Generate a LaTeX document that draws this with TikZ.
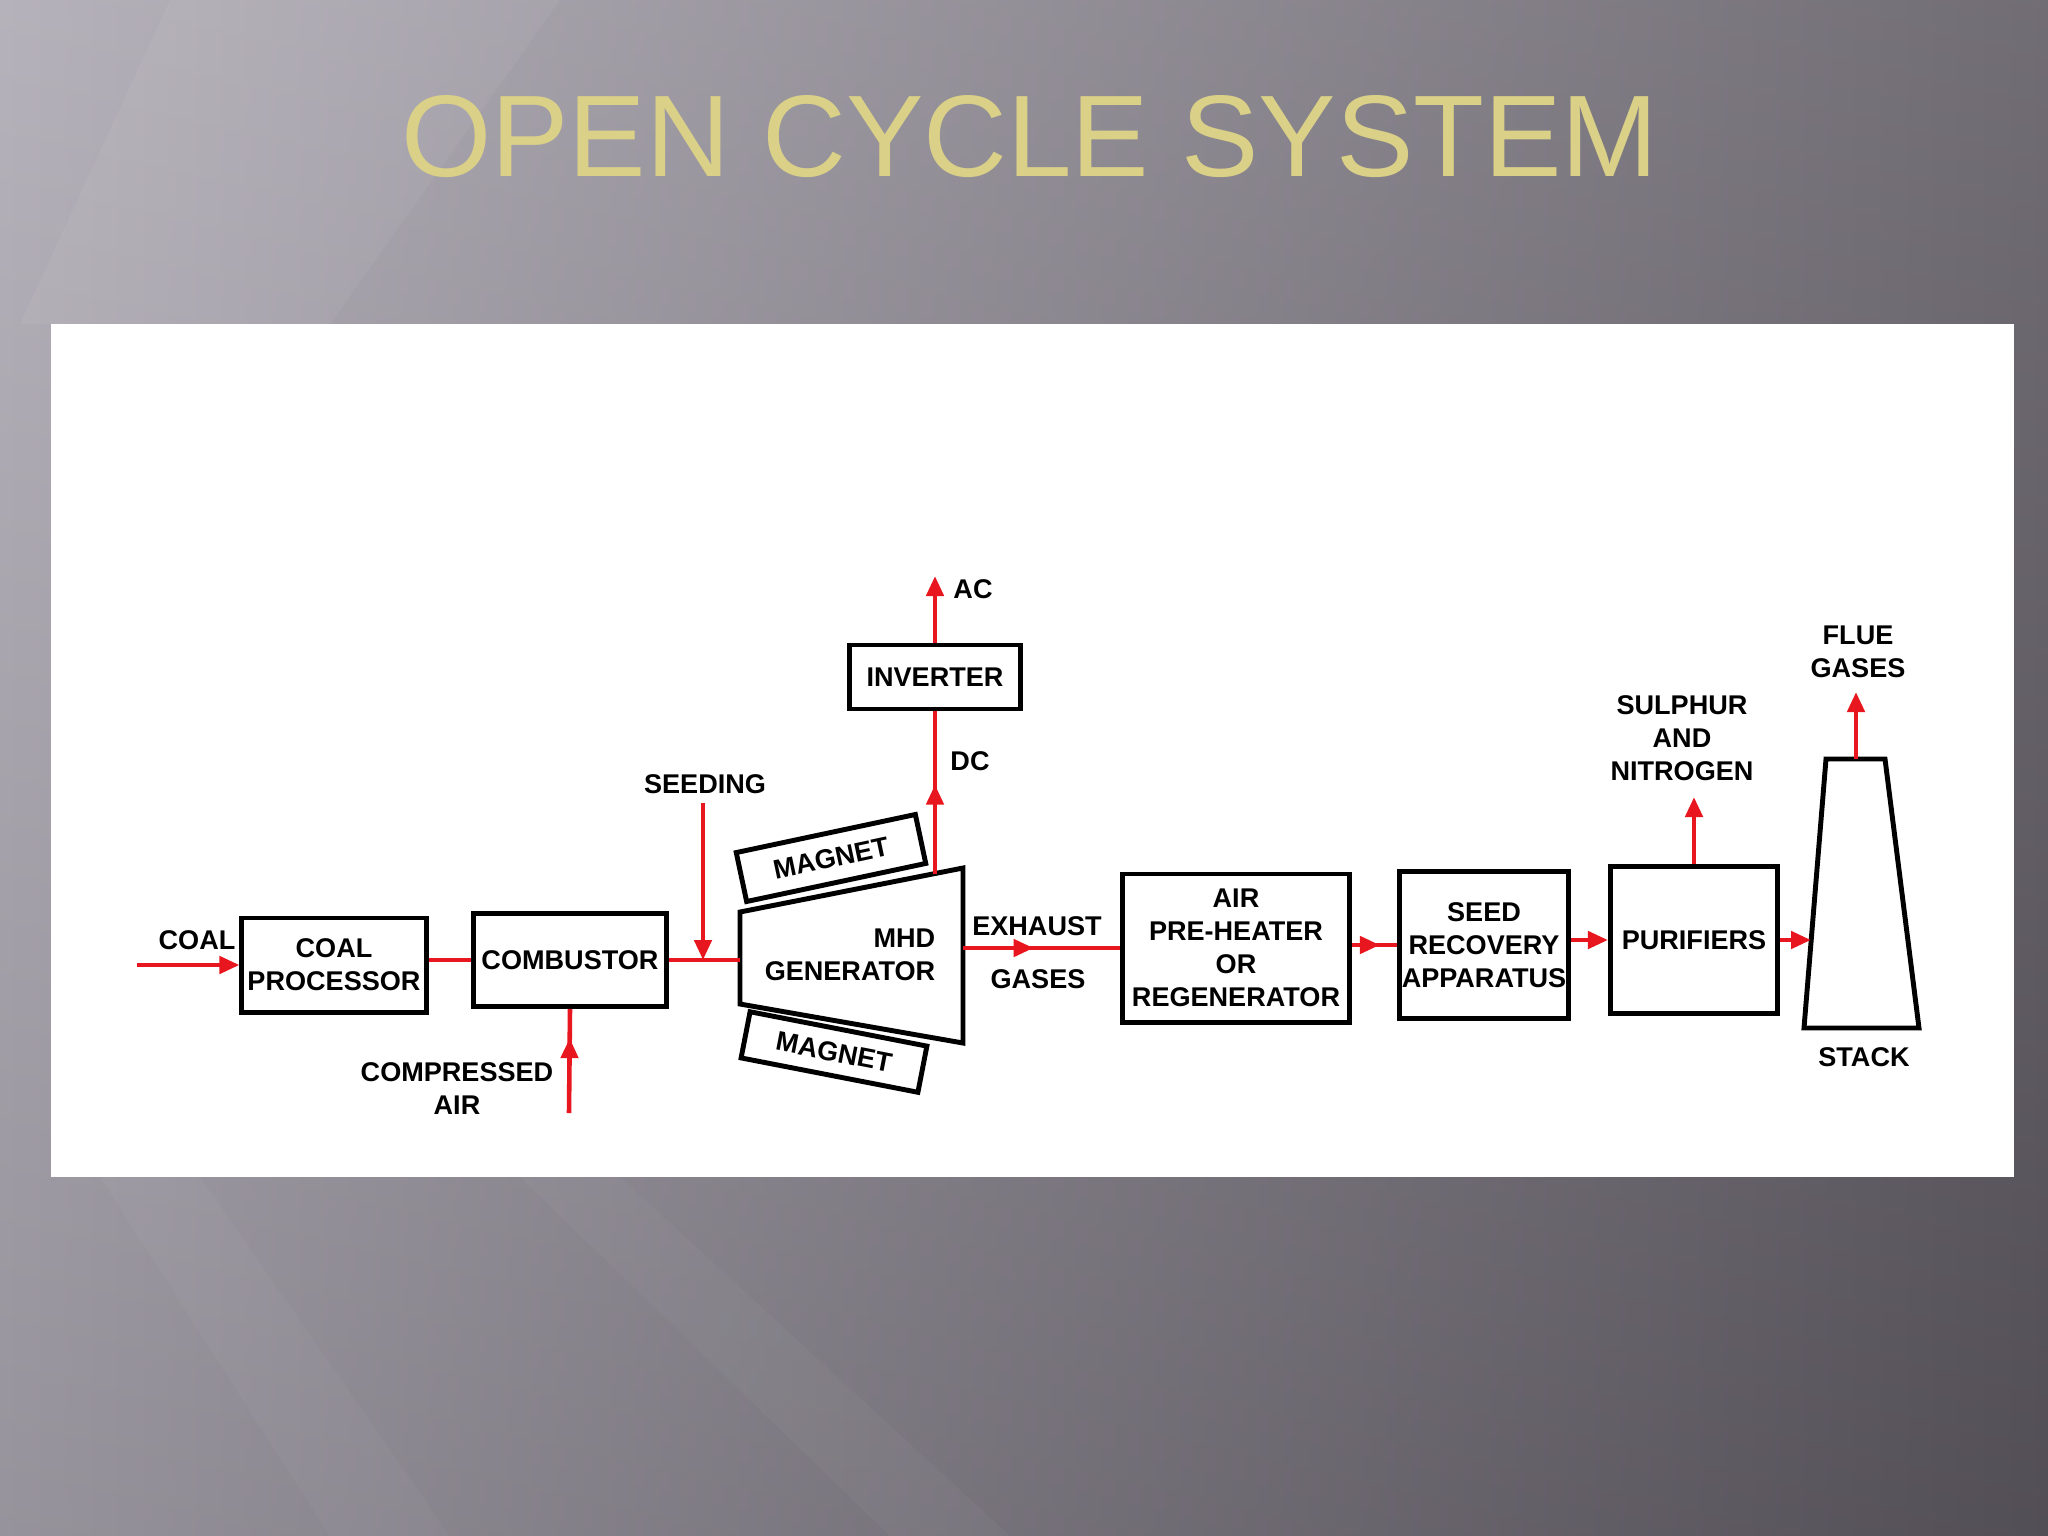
\documentclass[tikz,border=0pt]{standalone}
\usepackage{fontspec}
\setmainfont{Liberation Sans}
\usetikzlibrary{arrows.meta,decorations.markings}
\definecolor{flowred}{RGB}{232,22,30}
\definecolor{titlegold}{RGB}{218,208,136}
\definecolor{bgleft}{RGB}{172,168,178}
\definecolor{bgmid}{RGB}{120,115,126}
\definecolor{bgright}{RGB}{94,89,98}
\newcommand{\lblfont}{\bfseries\fontsize{7.7}{9.4}\selectfont}

\begin{document}
\begin{tikzpicture}[x=0.01cm, y=-0.01cm, >={Triangle[length=0.2cm,width=0.17cm]},
    blk/.style={draw, line width=1.4pt, align=center, inner sep=1pt, font=\lblfont},
    txt/.style={align=center, inner sep=0pt, font=\lblfont},
    flow/.style={color=flowred, line width=1.3pt},
    midarrow/.style={postaction={decorate}, decoration={markings, mark=at position #1 with {\arrow{>}}}}]
        % slide background
        \useasboundingbox (0,0) rectangle (2048,1536);
        \shade[left color=bgleft, middle color=bgmid, right color=bgright] (0,0) rectangle (2048,1536);
        \shade[top color=white, bottom color=black, fill opacity=0.12] (0,0) rectangle (2048,1536);
        \fill[white, opacity=0.05] (170,0) -- (560,0) -- (330,324) -- (20,324) -- cycle;
        \fill[white, opacity=0.03] (100,1177) -- (200,1177) -- (450,1536) -- (330,1536) -- cycle;
        \fill[white, opacity=0.03] (520,1177) -- (620,1177) -- (1010,1536) -- (890,1536) -- cycle;
        \fill[white] (51,324) rectangle (2014,1177);
        % title
        \node[font=\fontsize{33}{36}\selectfont, text=titlegold] (title) at (1030,137) {OPEN CYCLE SYSTEM};

        % blocks
        \node[blk, minimum width=1.84cm, minimum height=0.94cm] (cp) at (334,965) {COAL\\PROCESSOR};
        \node[blk, minimum width=1.93cm, minimum height=0.93cm] (comb) at (570,960) {COMBUSTOR};
        \node[blk, minimum width=1.70cm, minimum height=0.64cm] (inv) at (935,677) {INVERTER};
        \node[blk, minimum width=2.27cm, minimum height=1.48cm] (aph) at (1236,948) {AIR\\PRE-HEATER\\OR\\REGENERATOR};
        \node[blk, minimum width=1.69cm, minimum height=1.47cm, inner sep=0pt] (seed) at (1484,945) {SEED\\RECOVERY\\APPARATUS};
        \node[blk, minimum width=1.67cm, minimum height=1.47cm] (pur) at (1694,940) {PURIFIERS};
        \node[blk, minimum width=1.83cm, minimum height=0.50cm, rotate=12] (magtop) at (831,858) {MAGNET};
        \node[blk, minimum width=1.80cm, minimum height=0.47cm, rotate=-11] (magbot) at (834,1052) {MAGNET};

        % mhd generator
        \coordinate (mhdTL) at (740,912);
        \coordinate (mhdTR) at (963,868);
        \coordinate (mhdBR) at (963,1043);
        \coordinate (mhdBL) at (740,1004);
        \draw[line width=1.4pt] (mhdTL) -- (mhdTR) -- (mhdBR) -- (mhdBL) -- cycle;
        \node[txt, align=right] (mhd) at (850,955) {MHD\\GENERATOR};
        \coordinate (mhdin) at (740,960);
        \coordinate (mhdout) at (963,948);
        \coordinate (mhdtop) at (935,874);

        % stack
        \coordinate (stkTL) at (1826,759);
        \coordinate (stkTR) at (1885,759);
        \coordinate (stkBR) at (1919,1028);
        \coordinate (stkBL) at (1804,1028);
        \draw[line width=1.4pt] (stkTL) -- (stkTR) -- (stkBR) -- (stkBL) -- cycle;
        \coordinate (stktop) at (1856,759);
        \coordinate (stackin) at (1811,940);

        % free ends
        \coordinate (coalsrc) at (137,965);
        \coordinate (seedsrc) at (703,803);
        \coordinate (seedjoin) at (703,960);
        \coordinate (airsrc) at (569,1113);
        \coordinate (acend) at (935,576);
        \coordinate (sulend) at (1694,797);
        \coordinate (flueend) at (1856,692);

        % flows
        \draw[flow,->] (coalsrc) -- (cp.west);
        \draw[flow] (comb.west -| cp.east) -- (comb.west);
        \draw[flow] (comb.east) -- (mhdin);
        \draw[flow,->] (seedsrc) -- (seedjoin);
        \draw[flow,midarrow=0.72] (airsrc) -- (comb.south);
        \draw[flow,midarrow=0.55] (mhdtop) -- (inv.south);
        \draw[flow,->] (inv.north) -- (acend);
        \draw[flow,midarrow=0.45] (mhdout) -- (aph.west);
        \draw[flow,midarrow=0.62] (seed.west -| aph.east) -- (seed.west);
        \draw[flow,->] (pur.west -| seed.east) -- (pur.west);
        \draw[flow,->] (pur.east) -- (stackin);
        \draw[flow,->] (pur.north) -- (sulend);
        \draw[flow,->] (stktop) -- (flueend);

        % labels
        \node[txt] (coal) at (197,940) {COAL};
        \node[txt] (seeding) at (705,784) {SEEDING};
        \node[txt] (air) at (457,1089) {COMPRESSED\\AIR};
        \node[txt] (dc) at (970,761) {DC};
        \node[txt] (ac) at (973,589) {AC};
        \node[txt] (exhaust) at (1037,926) {EXHAUST};
        \node[txt] (gases) at (1038,979) {GASES};
        \node[txt] (sulphur) at (1682,738) {SULPHUR\\AND\\NITROGEN};
        \node[txt] (flue) at (1858,652) {FLUE\\GASES};
        \node[txt] (stack) at (1864,1057) {STACK};
      \end{tikzpicture}
\end{document}
